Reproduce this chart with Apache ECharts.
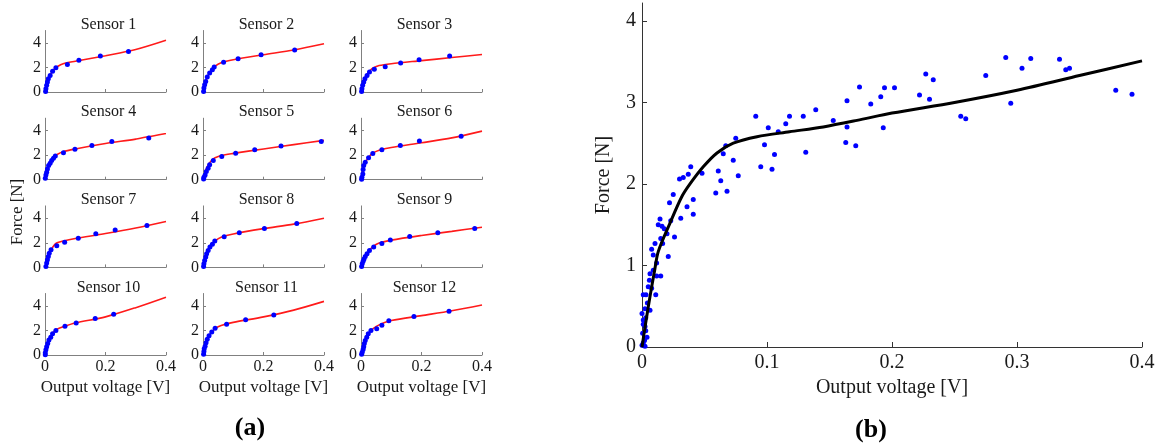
<!DOCTYPE html>
<html>
<head>
<meta charset="utf-8">
<script src="https://cdn.jsdelivr.net/npm/echarts@6/dist/echarts.min.js"></script>
<style>
  html, body { margin: 0; padding: 0; background: #fff; }
  #chart { width: 1162px; height: 448px; }
</style>
</head>
<body>
<div id="chart"></div>
<script>
// ---- calibration data: output voltage [V] vs applied force [N] ----
const sensorNames = ['Sensor 1', 'Sensor 2', 'Sensor 3', 'Sensor 4', 'Sensor 5', 'Sensor 6',
                     'Sensor 7', 'Sensor 8', 'Sensor 9', 'Sensor 10', 'Sensor 11', 'Sensor 12'];

// voltages at which each sensor's fitted curve is sampled
const fitVolts = [0, 0.005, 0.01, 0.02, 0.03, 0.04, 0.06, 0.1, 0.2, 0.3, 0.4];

const s1Volts = [0.002, 0.003, 0.0055, 0.008, 0.011, 0.017, 0.025, 0.036, 0.074, 0.112, 0.183, 0.276];
const s1Force = [0.05, 0.27, 0.54, 0.81, 1.08, 1.35, 1.68, 1.97, 2.24, 2.59, 2.92, 3.30];
const s1Fit   = [0, 0.5, 1.0, 1.5, 1.85, 2.05, 2.3, 2.5, 2.95, 3.45, 4.2];

const s2Volts = [0.002, 0.003, 0.0055, 0.009, 0.014, 0.022, 0.031, 0.037, 0.068, 0.116, 0.192, 0.303];
const s2Force = [0.05, 0.32, 0.59, 0.86, 1.22, 1.54, 1.81, 2.03, 2.41, 2.70, 3.03, 3.41];
const s2Fit   = [0, 0.5, 0.95, 1.5, 1.85, 2.1, 2.38, 2.62, 3.03, 3.42, 3.92];

const s3Volts = [0.002, 0.003, 0.0055, 0.009, 0.013, 0.020, 0.028, 0.044, 0.080, 0.131, 0.192, 0.293];
const s3Force = [0.05, 0.27, 0.54, 0.81, 1.08, 1.35, 1.62, 1.84, 2.05, 2.35, 2.62, 2.92];
const s3Fit   = [0, 0.55, 1.0, 1.45, 1.75, 1.95, 2.15, 2.3, 2.55, 2.8, 3.05];

const s4Volts = [0.001, 0.003, 0.0055, 0.008, 0.012, 0.017, 0.022, 0.028, 0.034, 0.061, 0.099, 0.155, 0.221, 0.343];
const s4Force = [0.11, 0.38, 0.60, 0.88, 1.15, 1.34, 1.56, 1.75, 1.92, 2.19, 2.47, 2.79, 3.10, 3.40];
const s4Fit   = [0, 0.5, 1.0, 1.5, 1.82, 2.05, 2.28, 2.5, 2.95, 3.3, 3.75];

const s5Volts = [0.002, 0.003, 0.007, 0.011, 0.017, 0.022, 0.034, 0.062, 0.108, 0.171, 0.258, 0.391];
const s5Force = [0.05, 0.19, 0.38, 0.66, 0.93, 1.21, 1.56, 1.89, 2.16, 2.44, 2.74, 3.10];
const s5Fit   = [0, 0.45, 0.85, 1.3, 1.6, 1.78, 1.97, 2.14, 2.5, 2.85, 3.2];

const s6Volts = [0.002, 0.003, 0.006, 0.007, 0.009, 0.014, 0.025, 0.039, 0.069, 0.130, 0.193, 0.331];
const s6Force = [0.03, 0.19, 0.47, 0.82, 1.15, 1.42, 1.78, 2.14, 2.44, 2.79, 3.15, 3.53];
const s6Fit   = [0, 0.55, 1.1, 1.65, 1.97, 2.18, 2.4, 2.62, 3.0, 3.4, 3.95];

const s7Volts = [0.003, 0.0055, 0.008, 0.011, 0.014, 0.020, 0.039, 0.065, 0.110, 0.168, 0.232, 0.337];
const s7Force = [0.08, 0.35, 0.62, 0.89, 1.16, 1.43, 1.76, 2.05, 2.38, 2.73, 3.05, 3.41];
const s7Fit   = [0, 0.45, 0.9, 1.4, 1.8, 2.0, 2.15, 2.35, 2.75, 3.2, 3.73];

const s8Volts = [0.002, 0.003, 0.0055, 0.009, 0.012, 0.017, 0.023, 0.031, 0.039, 0.070, 0.120, 0.203, 0.310];
const s8Force = [0.08, 0.30, 0.57, 0.84, 1.11, 1.38, 1.65, 1.89, 2.14, 2.49, 2.81, 3.16, 3.57];
const s8Fit   = [0, 0.5, 0.95, 1.5, 1.88, 2.15, 2.45, 2.72, 3.15, 3.52, 4.0];

const s9Volts = [0.002, 0.004, 0.007, 0.010, 0.014, 0.020, 0.028, 0.042, 0.069, 0.097, 0.161, 0.254, 0.376];
const s9Force = [0.08, 0.30, 0.49, 0.68, 0.89, 1.11, 1.38, 1.65, 1.95, 2.22, 2.51, 2.81, 3.16];
const s9Fit   = [0, 0.35, 0.7, 1.12, 1.45, 1.7, 1.98, 2.22, 2.6, 2.93, 3.27];

const s10Volts = [0.001, 0.001, 0.003, 0.0055, 0.009, 0.013, 0.019, 0.025, 0.036, 0.066, 0.103, 0.166, 0.227];
const s10Force = [0.03, 0.19, 0.42, 0.67, 0.94, 1.22, 1.44, 1.72, 2.0, 2.33, 2.61, 2.97, 3.31];
const s10Fit   = [0, 0.6, 1.05, 1.55, 1.9, 2.1, 2.3, 2.6, 3.1, 3.85, 4.7];

const s11Volts = [0.002, 0.003, 0.004, 0.007, 0.010, 0.014, 0.020, 0.029, 0.040, 0.078, 0.141, 0.234];
const s11Force = [0.06, 0.28, 0.50, 0.72, 1.0, 1.28, 1.56, 1.86, 2.17, 2.50, 2.86, 3.25];
const s11Fit   = [0, 0.55, 1.0, 1.55, 1.9, 2.15, 2.4, 2.65, 3.1, 3.65, 4.36];

const s12Volts = [0.002, 0.004, 0.007, 0.009, 0.011, 0.014, 0.019, 0.024, 0.033, 0.052, 0.069, 0.092, 0.175, 0.291];
const s12Force = [0.06, 0.22, 0.44, 0.67, 0.94, 1.17, 1.44, 1.72, 2.0, 2.14, 2.42, 2.78, 3.14, 3.56];
const s12Fit   = [0, 0.45, 0.9, 1.5, 1.9, 2.15, 2.45, 2.8, 3.2, 3.6, 4.06];

// all sensors pooled, with the common calibration curve
const allVolts = [
  0, 0.001, 0.0024, 0.004, 0.0005, 0.0024, 0.001, 0, 0.0064, 0.0024, 0.0043, 0.001, 0.0032, 0.005,
  0.0077, 0.0059, 0.0064, 0.009, 0.0117, 0.011, 0.0117, 0.009, 0.0077, 0.0104, 0.0165, 0.015, 0.020,
  0.0178, 0.016, 0.013, 0.023, 0.0144, 0.015, 0.021, 0.026, 0.031, 0.041, 0.036, 0.022, 0.025, 0.041,
  0.002, 0.003, 0.001, 0.003, 0.002,
  0.030, 0.033, 0.037, 0.039, 0.048, 0.059, 0.061, 0.063, 0.065, 0.067, 0.068, 0.073, 0.075, 0.077,
  0.091, 0.095, 0.098, 0.101, 0.104, 0.106, 0.109, 0.115, 0.118, 0.129, 0.131, 0.139, 0.153, 0.163,
  0.164, 0.164, 0.171, 0.174, 0.183, 0.191, 0.193, 0.194, 0.202, 0.222, 0.227, 0.230, 0.233, 0.255,
  0.259, 0.275, 0.291, 0.295, 0.304, 0.311, 0.334, 0.339, 0.342, 0.379, 0.392
];
const allForce = [
  0.02, 0.05, 0.01, 0.12, 0.17, 0.25, 0.33, 0.41, 0.45, 0.47, 0.54, 0.64, 0.64, 0.74,
  0.72, 0.82, 0.90, 0.94, 0.87, 0.64, 1.03, 1.13, 1.20, 1.27, 1.27, 1.33, 1.39,
  1.45, 1.48, 1.50, 1.55, 1.57, 0.87, 1.11, 1.35, 1.58, 1.63, 1.72, 1.77, 1.87, 1.81,
  0.08, 0.20, 0.28, 0.36, 0.10,
  2.06, 2.08, 2.12, 2.21, 2.13, 1.89, 2.16, 2.04, 2.37, 2.47, 1.91, 2.29, 2.56, 2.10,
  2.83, 2.21, 2.48, 2.69, 2.18, 2.36, 2.64, 2.74, 2.83, 2.83, 2.39, 2.91, 2.78, 2.51,
  3.02, 2.70, 2.47, 3.19, 2.98, 3.07, 2.69, 3.18, 3.18, 3.09, 3.35, 3.04, 3.28, 2.83,
  2.80, 3.33, 3.55, 2.99, 3.42, 3.54, 3.53, 3.40, 3.42, 3.15, 3.10
];
const curveVolts = [0, 0.003, 0.0064, 0.01, 0.013, 0.0224, 0.0317, 0.0384, 0.049, 0.06, 0.073,
                    0.092, 0.118, 0.145, 0.172, 0.2, 0.25, 0.3, 0.35, 0.4];
const curveForce = [0, 0.3, 0.62, 0.93, 1.17, 1.52, 1.84, 2.0, 2.21, 2.38, 2.50,
                    2.58, 2.64, 2.70, 2.78, 2.87, 3.0, 3.15, 3.33, 3.51];

// tick labels
const smallXTicks = [0, 0.2, 0.4];
const smallYTicks = [0, 2, 4];
const bigXTicks = [0, 0.1, 0.2, 0.3, 0.4];
const bigYTicks = [0, 1, 2, 3, 4];

// ---- layout ----
const FONT = '"Liberation Serif", "Times New Roman", serif';
const TXT = '#1a1a1a';
const colLeft = [45, 203, 361];
const rowBottom = [92, 179.7, 267.4, 355];
const plotW = 121, plotH = 61.5;

const sensorVolts = [s1Volts, s2Volts, s3Volts, s4Volts, s5Volts, s6Volts, s7Volts, s8Volts, s9Volts, s10Volts, s11Volts, s12Volts];
const sensorForce = [s1Force, s2Force, s3Force, s4Force, s5Force, s6Force, s7Force, s8Force, s9Force, s10Force, s11Force, s12Force];
const sensorFit = [s1Fit, s2Fit, s3Fit, s4Fit, s5Fit, s6Fit, s7Fit, s8Fit, s9Fit, s10Fit, s11Fit, s12Fit];

const pairs = (xs, ys) => xs.map((x, k) => [x, ys[k]]);

const grid = [], xAxis = [], yAxis = [], series = [], graphic = [];

sensorNames.forEach((name, i) => {
  const r = Math.floor(i / 3), c = i % 3;
  const top = rowBottom[r] - plotH;
  grid.push({ left: colLeft[c], top: top, width: plotW, height: plotH });
  const bottomRow = r === 3;
  xAxis.push({
    type: 'value', gridIndex: i, min: 0, max: 0.4,
    axisLine: { show: true, onZero: false, lineStyle: { color: '#808080', width: 1 } },
    axisTick: { show: true, inside: true, length: 3, customValues: smallXTicks, lineStyle: { color: '#808080' } },
    splitLine: { show: false },
    axisLabel: { show: bottomRow, customValues: smallXTicks, formatter: v => String(v),
                 fontFamily: FONT, fontSize: 16, color: TXT, margin: 4 },
    name: bottomRow ? 'Output voltage [V]' : '', nameLocation: 'middle', nameGap: 24,
    nameTextStyle: { fontFamily: FONT, fontSize: 17, color: TXT }
  });
  yAxis.push({
    type: 'value', gridIndex: i, min: 0, max: 5,
    axisLine: { show: true, onZero: false, lineStyle: { color: '#808080', width: 1 } },
    axisTick: { show: true, inside: true, length: 3, customValues: smallYTicks, lineStyle: { color: '#808080' } },
    splitLine: { show: false },
    axisLabel: { customValues: smallYTicks, fontFamily: FONT, fontSize: 16, color: TXT, margin: 4 }
  });
  series.push({
    type: 'line', xAxisIndex: i, yAxisIndex: i,
    data: pairs(fitVolts, sensorFit[i]),
    smooth: 0.3, showSymbol: false, silent: true,
    lineStyle: { color: '#ff1a1a', width: 1.6 }, z: 2
  });
  series.push({
    type: 'scatter', xAxisIndex: i, yAxisIndex: i,
    data: pairs(sensorVolts[i], sensorForce[i]),
    symbolSize: 5, itemStyle: { color: '#0000ff', opacity: 1 }, z: 3
  });
  graphic.push({
    type: 'text', x: colLeft[c] + plotW / 2 + 3, y: top - 6,
    style: { text: name, fontFamily: FONT, fontSize: 16, fill: TXT,
             align: 'center', verticalAlign: 'middle', textAlign: 'center', textVerticalAlign: 'middle' }
  });
});

// pooled panel
const bi = 12;
grid.push({ left: 642, top: 3, width: 500, height: 344 });
xAxis.push({
  type: 'value', gridIndex: bi, min: 0, max: 0.4,
  axisLine: { show: true, onZero: false, lineStyle: { color: '#333', width: 1 } },
  axisTick: { show: true, inside: true, length: 5, customValues: bigXTicks, lineStyle: { color: '#333' } },
  splitLine: { show: false },
  axisLabel: { customValues: bigXTicks, formatter: v => String(v), fontFamily: FONT, fontSize: 20, color: TXT, margin: 6 },
  name: 'Output voltage [V]', nameLocation: 'middle', nameGap: 31,
  nameTextStyle: { fontFamily: FONT, fontSize: 20, color: TXT }
});
yAxis.push({
  type: 'value', gridIndex: bi, min: 0, max: 4.22,
  axisLine: { show: true, onZero: false, lineStyle: { color: '#333', width: 1 } },
  axisTick: { show: true, inside: true, length: 5, customValues: bigYTicks, lineStyle: { color: '#333' } },
  splitLine: { show: false },
  axisLabel: { customValues: bigYTicks, fontFamily: FONT, fontSize: 20, color: TXT, margin: 6 },
  name: 'Force [N]', nameLocation: 'middle', nameGap: 28, nameRotate: 90,
  nameTextStyle: { fontFamily: FONT, fontSize: 20, color: TXT }
});
series.push({
  type: 'scatter', xAxisIndex: bi, yAxisIndex: bi,
  data: pairs(allVolts, allForce),
  symbolSize: 5, itemStyle: { color: '#0000ff', opacity: 1 }, z: 2
});
series.push({
  type: 'line', xAxisIndex: bi, yAxisIndex: bi,
  data: pairs(curveVolts, curveForce),
  smooth: 0.3, showSymbol: false, silent: true,
  lineStyle: { color: '#000', width: 3 }, z: 3
});

// shared axis title of the sensor grid and the panel letters
graphic.push({
  type: 'text', x: 18, y: 212, rotation: Math.PI / 2,
  style: { text: 'Force [N]', fontFamily: FONT, fontSize: 17, fill: TXT,
           align: 'center', verticalAlign: 'middle', textAlign: 'center', textVerticalAlign: 'middle' }
});
graphic.push({
  type: 'text', x: 250, y: 428,
  style: { text: '(a)', fontFamily: FONT, fontSize: 26, fontWeight: 'bold', fill: '#000',
           align: 'center', verticalAlign: 'middle', textAlign: 'center', textVerticalAlign: 'middle' }
});
graphic.push({
  type: 'text', x: 871, y: 430,
  style: { text: '(b)', fontFamily: FONT, fontSize: 26, fontWeight: 'bold', fill: '#000',
           align: 'center', verticalAlign: 'middle', textAlign: 'center', textVerticalAlign: 'middle' }
});

const chart = echarts.init(document.getElementById('chart'), null, { renderer: 'canvas' });
chart.setOption({
  animation: false,
  backgroundColor: '#fff',
  grid, xAxis, yAxis, series, graphic
});
</script>
</body>
</html>
